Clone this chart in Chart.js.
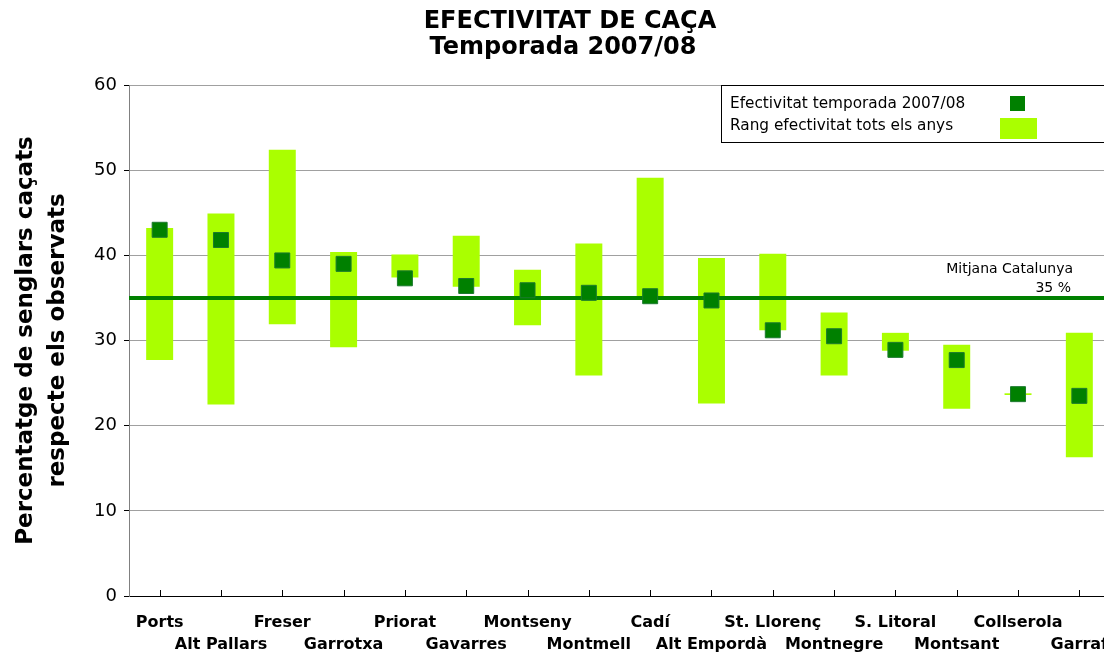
<!DOCTYPE html>
<html>
<head>
<meta charset="utf-8">
<title>Efectivitat de caça</title>
<script src="https://cdn.jsdelivr.net/npm/chart.js@4/dist/chart.umd.min.js"></script>
<style>
  html, body { margin: 0; padding: 0; background: #fff; }
  /* the plot runs a few pixels past the right edge, as in the cropped original */
  #wrap { width: 1104px; height: 652px; position: relative; overflow: hidden; }
</style>
</head>
<body>
<div id="wrap"><canvas id="chart" width="1110" height="652"></canvas></div>
<script>
'use strict';

/* ── Data ─────────────────────────────────────────────────────────────── */
const zones = ['Ports', 'Alt Pallars', 'Freser', 'Garrotxa', 'Priorat', 'Gavarres', 'Montseny', 'Montmell',
  'Cadí', 'Alt Empordà', 'St. Llorenç', 'Montnegre', 'S. Litoral', 'Montsant', 'Collserola', 'Garraf'];
const rangeMin = [27.7, 22.5, 31.9, 29.2, 37.4, 36.3, 31.8, 25.9, 35.0, 22.6, 31.2, 25.9, 28.8, 22.0, 23.6, 16.3];
const rangeMax = [43.2, 44.9, 52.4, 40.4, 40.1, 42.3, 38.3, 41.4, 49.1, 39.7, 40.2, 33.3, 30.9, 29.5, 23.8, 30.9];
const season0708 = [43.0, 41.8, 39.4, 39.0, 37.3, 36.4, 35.9, 35.6, 35.2, 34.7, 31.2, 30.5, 28.9, 27.7, 23.7, 23.5];
const mitjana = 35;
const yTicks = [0, 10, 20, 30, 40, 50, 60];

const titleLines = ['EFECTIVITAT DE CAÇA', 'Temporada 2007/08'];
const yTitle = ['Percentatge de senglars caçats', 'respecte els observats'];
const legendLabels = ['Efectivitat temporada 2007/08', 'Rang efectivitat tots els anys'];

const DARK = '#008000';
const LIME = '#aaff00';
const FONT = "'DejaVu Sans', Verdana, sans-serif";

/* ── Extras drawn on the canvas ───────────────────────────────────────── */
const extras = {
  id: 'extras',
  afterDatasetDraw(chart, args) {
    if (args.index !== 1) return;           // after the range bars, before the markers
    const { ctx, chartArea: a } = chart;
    const y = chart.scales.y.getPixelForValue(mitjana);
    ctx.save();
    ctx.strokeStyle = DARK;
    ctx.lineWidth = 4;
    ctx.beginPath();
    ctx.moveTo(a.left, y);
    ctx.lineTo(a.right, y);
    ctx.stroke();
    ctx.restore();
  },
  afterDraw(chart) {
    const { ctx, chartArea: a } = chart;
    const xs = chart.scales.x;
    ctx.save();

    // inward tick marks on the category axis
    ctx.strokeStyle = '#000';
    ctx.lineWidth = 1;
    ctx.beginPath();
    zones.forEach((z, i) => {
      const x = Math.round(xs.getPixelForTick(i)) + 0.5;
      ctx.moveTo(x, a.bottom);
      ctx.lineTo(x, a.bottom - 6);
    });
    ctx.stroke();

    // title
    ctx.fillStyle = '#000';
    ctx.textAlign = 'center';
    ctx.textBaseline = 'middle';
    ctx.font = `bold 24px ${FONT}`;
    ctx.fillText(titleLines[0], 570, 22);
    ctx.fillText(titleLines[1], 563, 48);

    // mean label
    const y = chart.scales.y.getPixelForValue(mitjana);
    ctx.font = `14px ${FONT}`;
    ctx.textAlign = 'right';
    ctx.fillText('Mitjana Catalunya', a.right - 37, y - 29);
    ctx.fillText(mitjana + ' %', a.right - 39, y - 10);

    // legend box
    const lx = 721, ly = a.top;
    ctx.fillStyle = '#fff';
    ctx.fillRect(lx, ly, a.right - lx + 10, 57);
    ctx.strokeStyle = '#000';
    ctx.strokeRect(lx + 0.5, ly + 0.5, a.right - lx + 10, 57);
    ctx.fillStyle = '#000';
    ctx.textAlign = 'left';
    ctx.font = `15.3px ${FONT}`;
    ctx.fillText(legendLabels[0], lx + 9, ly + 19);
    ctx.fillText(legendLabels[1], lx + 9, ly + 41);
    ctx.fillStyle = DARK;
    ctx.fillRect(1010, ly + 11, 15, 15);
    ctx.fillStyle = LIME;
    ctx.fillRect(1000, ly + 33, 37, 21);
    ctx.restore();
  }
};

/* ── Chart ────────────────────────────────────────────────────────────── */
new Chart(document.getElementById('chart'), {
  type: 'bar',
  data: {
    labels: zones,
    datasets: [
      {
        type: 'line',
        label: legendLabels[0],
        data: season0708,
        showLine: false,
        clip: false,
        pointStyle: 'rect',
        pointRadius: 10.6,
        pointHoverRadius: 10.6,
        pointBackgroundColor: DARK,
        pointBorderColor: '#1b7a2e',
        pointBorderWidth: 1,
        order: 0
      },
      {
        label: legendLabels[1],
        data: rangeMin.map((v, i) => [v, rangeMax[i]]),
        backgroundColor: LIME,
        borderWidth: 0,
        borderSkipped: false,
        categoryPercentage: 1,
        barPercentage: 0.44,
        order: 1
      }
    ]
  },
  options: {
    responsive: false,
    animation: false,
    devicePixelRatio: 1,
    // no auto padding for the marker size, so the plot runs to the right edge
    layout: { autoPadding: false, padding: { top: 85, right: 0, left: 0, bottom: 0 } },
    plugins: { legend: { display: false }, tooltip: { enabled: false }, title: { display: false } },
    scales: {
      x: {
        offset: true,
        // invisible tick marks only push the labels down; real ticks are drawn inward by the plugin
        grid: { display: true, drawOnChartArea: false, drawTicks: true, tickLength: 16, tickColor: 'rgba(0,0,0,0)' },
        border: { display: true, color: '#000', width: 1 },
        ticks: {
          autoSkip: false,
          maxRotation: 0,
          padding: 0,
          color: '#000',
          font: { family: FONT, size: 16, weight: 'bold', lineHeight: 1.35 },
          callback: (v, i) => (i % 2 === 0 ? [zones[i]] : ['', zones[i]])
        },
        afterFit: s => { s.height = 56; }
      },
      y: {
        min: 0,
        max: 60,
        afterBuildTicks: s => { s.ticks = yTicks.map(v => ({ value: v })); },
        grid: { color: '#a0a0a0', tickColor: '#000', tickLength: 5 },
        border: { color: '#808080', width: 1 },
        ticks: { padding: 7, color: '#000', font: { family: FONT, size: 18 } },
        title: {
          display: true,
          text: yTitle,
          color: '#000',
          padding: { top: 10, bottom: 0 },
          font: { family: FONT, size: 23, weight: 'bold', lineHeight: 1.4 }
        },
        afterFit: s => { s.width = 129; }
      }
    }
  },
  plugins: [extras]
});
</script>
</body>
</html>
